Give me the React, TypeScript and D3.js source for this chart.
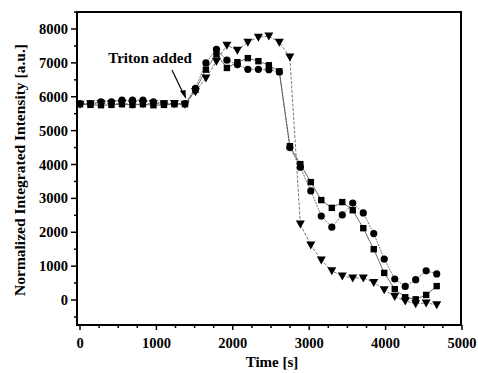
import React from "react";
import * as d3 from "d3";

const times = [0, 137, 275, 412, 549, 687, 824, 961, 1099, 1236, 1374, 1511, 1648, 1786, 1923, 2060, 2197, 2335, 2472, 2609, 2747, 2884, 3021, 3158, 3296, 3433, 3570, 3708, 3845, 3982, 4120, 4257, 4394, 4531, 4669];
const circles = [5800, 5800, 5850, 5850, 5900, 5900, 5900, 5850, 5800, 5800, 5800, 6250, 7000, 7400, 7080, 6950, 6810, 6810, 6800, 6730, 4500, 3920, 3220, 2480, 2150, 2510, 2860, 2570, 1960, 1210, 620, 400, 600, 860, 770];
const squares = [5780, 5760, 5750, 5760, 5780, 5760, 5780, 5750, 5760, 5780, 5780, 6200, 6800, 7250, 6850, 7020, 7140, 7050, 6930, 6750, 4540, 4010, 3480, 2950, 2720, 2890, 2650, 2120, 1500, 800, 320, 80, 20, 150, 410];
const triangles = [5780, 5790, 5800, 5790, 5800, 5780, 5790, 5800, 5790, 5800, 5780, 6150, 6550, 7050, 7520, 7370, 7610, 7760, 7790, 7610, 7170, 2240, 1620, 1180, 860, 710, 650, 650, 520, 300, 100, -30, -110, -90, -140];

const xTicks = [0, 1000, 2000, 3000, 4000, 5000];
const yTicks = [0, 1000, 2000, 3000, 4000, 5000, 6000, 7000, 8000];

const W = 478, H = 373;
const L = 77, R = 461, T = 12, B = 325;

export default function App() {
  const x = d3.scaleLinear().domain([-40, 5000]).range([80 - (40 / 1000) * 76.4, 462]);
  const y = d3.scaleLinear().domain([0, 8000]).range([300, 29]);
  const font = "'Liberation Serif', 'Times New Roman', serif";
  const line = d3.line<[number, number]>().x(d => x(d[0])).y(d => y(d[1]));
  const mk = (vals: number[]) => times.map((t, i) => [t, vals[i]] as [number, number]);
  const xMinor = d3.range(0, 5001, 250);
  const yMinor = d3.range(-500, 8501, 500);
  const tri = (cx: number, cy: number) => `M${cx - 4.5},${cy - 3.5} L${cx + 4.5},${cy - 3.5} L${cx},${cy + 4.5} Z`;
  return (
    <svg width={W} height={H} style={{ position: "absolute", left: 0, top: 0, background: "#fff" }}>
      <rect x={0} y={0} width={W} height={H} fill="#fff" />
      {/* lines */}
      <path d={line(mk(squares)) || ""} fill="none" stroke="#444" strokeWidth={0.8} />
      <path d={line(mk(circles)) || ""} fill="none" stroke="#555" strokeWidth={0.8} strokeDasharray="2,1" />
      <path d={line(mk(triangles)) || ""} fill="none" stroke="#555" strokeWidth={0.8} strokeDasharray="3,1.5" />
      {/* markers */}
      {times.map((t, i) => (
        <rect key={"s" + i} x={x(t) - 3.2} y={y(squares[i]) - 3.2} width={6.4} height={6.4} fill="#000" />
      ))}
      {times.map((t, i) => (
        <circle key={"c" + i} cx={x(t)} cy={y(circles[i])} r={3.6} fill="#000" />
      ))}
      {times.map((t, i) => (
        <path key={"t" + i} d={tri(x(t), y(triangles[i]))} fill="#000" />
      ))}
      {/* frame */}
      <rect x={L} y={T} width={R - L} height={B - T} fill="none" stroke="#000" strokeWidth={2} />
      {/* y ticks */}
      {yMinor.map(v => (
        <line key={"ym" + v} x1={L} x2={L - (v % 1000 === 0 ? 6 : 3)} y1={y(v)} y2={y(v)} stroke="#000" strokeWidth={1.5} />
      ))}
      {yTicks.map(v => (
        <text key={"yl" + v} x={68} y={y(v)} dy="0.35em" textAnchor="end" fontFamily={font} fontWeight="bold" fontSize={14.5}>{v}</text>
      ))}
      {/* x ticks */}
      {xMinor.map(v => (
        <line key={"xm" + v} x1={x(v)} x2={x(v)} y1={B} y2={B + (v % 1000 === 0 ? 5 : 3)} stroke="#000" strokeWidth={1.5} />
      ))}
      {xTicks.map(v => (
        <text key={"xl" + v} x={x(v)} y={348} textAnchor="middle" fontFamily={font} fontWeight="bold" fontSize={14.5}>{v}</text>
      ))}
      <text x={272} y={367} textAnchor="middle" fontFamily={font} fontWeight="bold" fontSize={15}>Time [s]</text>
      <text transform="translate(25,170) rotate(-90)" textAnchor="middle" fontFamily={font} fontWeight="bold" fontSize={15.5}>Normalized Integrated Intensity [a.u.]</text>
      {/* annotation */}
      <text x={150} y={63} textAnchor="middle" fontFamily={font} fontWeight="bold" fontSize={15}>Triton added</text>
      <line x1={172} y1={70} x2={183} y2={93} stroke="#000" strokeWidth={1.2} />
      <path d="M186,99 L180,91 L185.5,90 Z" fill="#000" />
    </svg>
  );
}
